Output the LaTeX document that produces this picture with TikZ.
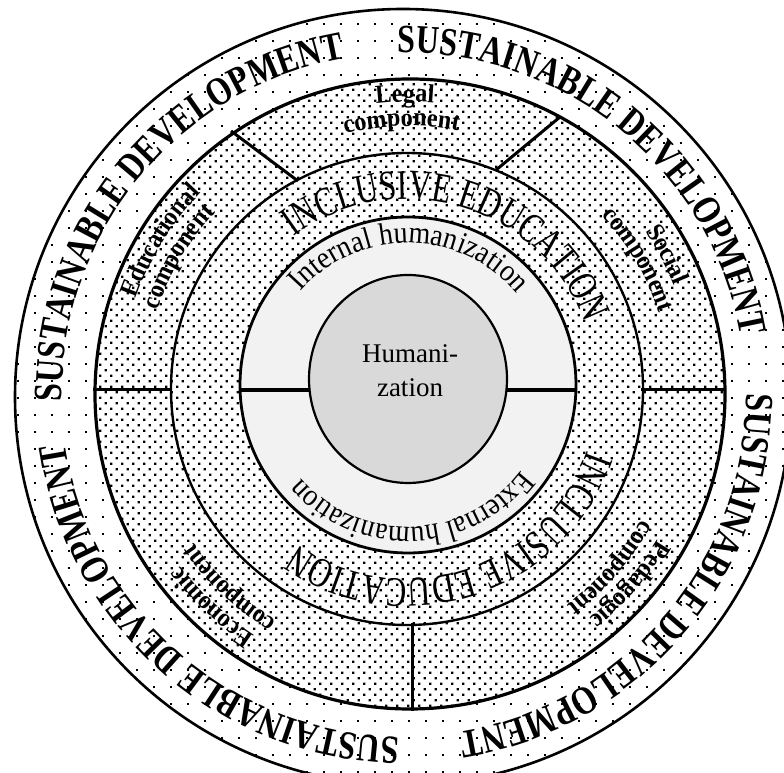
\documentclass[tikz,border=0pt]{standalone}
\usepackage{fontspec}
\setmainfont{Liberation Serif}
\newfontfamily\sdfont[FakeStretch=0.8]{Liberation Serif}
\newfontfamily\iefont[FakeStretch=0.74]{Liberation Serif}
\newfontfamily\humfont[FakeStretch=0.9]{Liberation Serif}
\newfontfamily\compfont[FakeStretch=0.93]{Liberation Serif}
\usetikzlibrary{decorations.text,patterns}

\definecolor{ringgrey}{HTML}{F2F2F2}
\definecolor{coregrey}{HTML}{D9D9D9}

% sparse dots for the outer band, dense dots for the two middle bands
\pgfdeclarepatternformonly{sparsedots}{\pgfpoint{-1pt}{-1pt}}{\pgfpoint{18pt}{18pt}}{\pgfpoint{17pt}{17pt}}{%
  \pgfpathrectangle{\pgfpoint{0pt}{0pt}}{\pgfpoint{2.2pt}{2.2pt}}%
  \pgfusepath{fill}}
\pgfdeclarepatternformonly{densedots}{\pgfpoint{-1pt}{-1pt}}{\pgfpoint{12pt}{12pt}}{\pgfpoint{11pt}{11pt}}{%
  \pgfpathrectangle{\pgfpoint{0pt}{0pt}}{\pgfpoint{2.3pt}{2.3pt}}%
  \pgfpathrectangle{\pgfpoint{5.5pt}{5.5pt}}{\pgfpoint{2.3pt}{2.3pt}}%
  \pgfusepath{fill}}

% text set along a circular arc, centred on the arc
% #1 centre, #2 radius, #3 start angle, #4 end angle, #5 font, #6 text
\newcommand\ringtext[6]{%
  \path[decorate,decoration={text along path,text align=center,text={|#5|#6}}]
    ([shift={(#3:#2)}]#1) arc[start angle=#3,end angle=#4,radius=#2];}

\tikzset{
  divider/.style={draw=black,line width=3pt},
  centretext/.style={font=\fontsize{27}{34}\selectfont,inner sep=0pt},
}

\newcommand\sdfmt{\fontsize{40}{44}\sdfont\bfseries}
\newcommand\iefmt{\fontsize{42}{46}\iefont}
\newcommand\humfmt{\fontsize{31}{34}\humfont}
\newcommand\compfmt{\fontsize{26}{28}\compfont\bfseries}

\begin{document}
\begin{tikzpicture}[x=1pt,y=1pt]
\useasboundingbox (0,0) rectangle (784,773);
\clip (0,0) rectangle (784,773);

% ring centres
\coordinate (c1) at (403,376);
\coordinate (c2) at (410,379);
\coordinate (c3) at (407,384);
\coordinate (c4) at (408,388);
\coordinate (c5) at (408,394);
\coordinate (sdc) at (404,378);

% fills
\fill[white] (c1) circle (388pt);
\fill[pattern=sparsedots] (c1) circle (388pt);
\fill[white] (c2) circle (315pt);
\fill[pattern=densedots] (c2) circle (315pt);
\fill[white] (c3) circle (236pt);
\fill[pattern=densedots] (c3) circle (236pt);
\fill[ringgrey] (c4) circle (168pt);
\fill[coregrey] (c5) ellipse [x radius=99pt,y radius=104pt];

% sector dividers
\coordinate (dL1) at (93,383);   \coordinate (dL2) at (172,383);
\coordinate (dR1) at (641,383);  \coordinate (dR2) at (726,383);
\coordinate (dB1) at (412,150);  \coordinate (dB2) at (412,62);
\coordinate (dUL1) at (231,642); \coordinate (dUL2) at (298,592);
\coordinate (dUR1) at (560,656); \coordinate (dUR2) at (496,603);
\coordinate (iL1) at (239,383);  \coordinate (iL2) at (310,383);
\coordinate (iR1) at (506,383);  \coordinate (iR2) at (576,383);
\draw[divider] (dL1) -- (dL2);
\draw[divider] (dR1) -- (dR2);
\draw[divider] (dB1) -- (dB2);
\draw[divider] (dUL1) -- (dUL2);
\draw[divider] (dUR1) -- (dUR2);
\draw[divider,line width=3.3pt] (iL1) -- (iL2);
\draw[divider,line width=3.3pt] (iR1) -- (iR2);

% ring outlines
\draw[line width=2.6pt] (c1) circle (388pt);
\draw[line width=3.2pt] (c2) circle (315pt);
\draw[line width=2.4pt] (c3) circle (236pt);
\draw[line width=2.8pt] (c4) circle (168pt);
\draw[line width=2.2pt] (c5) ellipse [x radius=99pt,y radius=104pt];

% outer band
\ringtext{sdc}{342pt}{190.5}{90.5}{\sdfmt}{SUSTAINABLE DEVELOPMENT}
\ringtext{sdc}{342pt}{100.5}{0.5}{\sdfmt}{SUSTAINABLE DEVELOPMENT}
\ringtext{sdc}{342pt}{9.7}{-90.3}{\sdfmt}{SUSTAINABLE DEVELOPMENT}
\ringtext{sdc}{342pt}{-81.3}{-181.3}{\sdfmt}{SUSTAINABLE DEVELOPMENT}

% component band
\ringtext{c2}{292pt}{121}{61}{\compfmt}{Legal}
\ringtext{c2}{268pt}{121.8}{61.8}{\compfmt}{component}
\ringtext{c2}{286pt}{58.5}{-1.5}{\compfmt}{Social}
\ringtext{c2}{262pt}{60.5}{0.5}{\compfmt}{component}
\ringtext{c2}{290pt}{178.5}{118.5}{\compfmt}{Educational}
\ringtext{c2}{266pt}{179.3}{119.3}{\compfmt}{component}
\ringtext{c2}{287pt}{-103}{-163}{\compfmt}{Economic}
\ringtext{c2}{263pt}{-103}{-163}{\compfmt}{component}
\ringtext{c2}{287pt}{-11}{-71}{\compfmt}{Pedagogic}
\ringtext{c2}{263pt}{-11}{-71}{\compfmt}{component}

% inclusive education band
\ringtext{c3}{190pt}{143.4}{3.4}{\iefmt}{INCLUSIVE EDUCATION}
\ringtext{c3}{190pt}{-2}{-142}{\iefmt}{INCLUSIVE EDUCATION}

% humanization band
\ringtext{c4}{142pt}{154.5}{24.5}{\humfmt}{Internal humanization}
\ringtext{c4}{142pt}{-23}{-153}{\humfmt}{External humanization}

% centre
\node[centretext,anchor=base] (hum1) at (410,410) {Humani-};
\node[centretext,anchor=base] (hum2) at (410,376) {zation};
\end{tikzpicture}
\end{document}
